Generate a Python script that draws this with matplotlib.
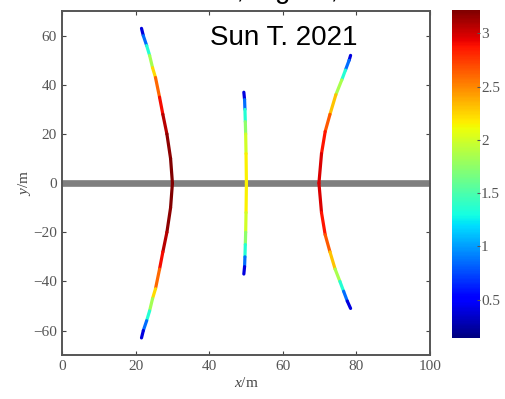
#!/usr/bin/env python3
"""Three coloured reflection curves around a grey baseline, with a jet colour bar."""

import matplotlib
matplotlib.use("Agg")
import matplotlib.pyplot as plt
import numpy as np
from matplotlib import font_manager
from matplotlib.collections import LineCollection

plt.rcParams["font.family"] = ["Liberation Serif", "DejaVu Serif"]
plt.rcParams["mathtext.fontset"] = "custom"
plt.rcParams["mathtext.rm"] = "Liberation Serif"
plt.rcParams["mathtext.it"] = "Liberation Serif:italic"

# left curve (top end -> bottom end)
left_y = [63, 60, 56, 52, 47, 43, 35, 28, 20, 10, 0, -10, -20, -28, -35, -43, -47, -52, -56, -60, -63]
left_x = [21.6, 22.1, 23.0, 23.8, 24.6, 25.4, 26.5, 27.4, 28.5, 29.5, 30.0,
          29.5, 28.5, 27.4, 26.5, 25.4, 24.6, 23.8, 23.0, 22.1, 21.6]
left_v = [0.2, 0.6, 1.1, 1.6, 2.05, 2.4, 2.8, 3.0, 3.15, 3.2, 3.22,
          3.2, 3.15, 3.0, 2.8, 2.4, 2.05, 1.6, 1.1, 0.6, 0.2]

# middle curve
mid_y = [37, 34, 30, 25, 20, 12, 0, -12, -20, -25, -30, -34, -37]
mid_x = [49.4, 49.6, 49.7, 49.8, 49.9, 50.0, 50.1, 50.0, 49.9, 49.8, 49.7, 49.6, 49.4]
mid_v = [0.2, 0.6, 1.1, 1.6, 1.9, 2.1, 2.2, 2.1, 1.9, 1.6, 1.1, 0.6, 0.2]

# right curve
right_y = [52, 50, 46, 42, 36, 28, 21, 12, 0, -12, -21, -28, -35, -40, -44, -48, -51]
right_x = [78.4, 78.0, 77.0, 76.0, 74.4, 72.8, 71.5, 70.5, 69.8,
           70.5, 71.5, 72.8, 74.2, 75.5, 76.5, 77.5, 78.4]
right_v = [0.2, 0.6, 1.1, 1.6, 2.1, 2.5, 2.8, 2.95, 3.0,
           2.95, 2.8, 2.5, 2.1, 1.6, 1.1, 0.6, 0.2]

CURVES = [(left_x, left_y, left_v), (mid_x, mid_y, mid_v), (right_x, right_y, right_v)]
V_MIN, V_MAX = 0.14, 3.22
CBAR_TICKS = [0.5, 1, 1.5, 2, 2.5, 3]
CBAR_LABELS = ["0.5", "1", "1.5", "2", "2.5", "3"]

installed = {f.name for f in font_manager.fontManager.ttflist}
NARROW = "Liberation Sans Narrow" in installed
SANS = ["Liberation Sans Narrow", "Liberation Sans"] if NARROW else ["Liberation Sans"]
TITLE_SIZE = 26 if NARROW else 20


def add_curve(ax, xs, ys, vs, norm):
    pts = np.column_stack([xs, ys])
    segs = np.stack([pts[:-1], pts[1:]], axis=1)
    vals = (np.asarray(vs[:-1]) + np.asarray(vs[1:])) / 2
    lc = LineCollection(segs, cmap="jet", norm=norm, linewidths=2.3, capstyle="round", zorder=3)
    lc.set_array(vals)
    ax.add_collection(lc)
    return lc


def main():
    fig = plt.figure(figsize=(5.06, 3.99), dpi=100)
    ax = fig.add_axes([0.1225, 0.110, 0.7275, 0.862])
    cax = fig.add_axes([0.893, 0.153, 0.055, 0.822])

    norm = plt.Normalize(V_MIN, V_MAX)
    ax.axhline(0, color="#7f7f7f", linewidth=4.8, zorder=2)
    lc = None
    for xs, ys, vs in CURVES:
        lc = add_curve(ax, xs, ys, vs, norm)

    ax.set_xlim(0, 100)
    ax.set_ylim(-70, 70)
    ax.set_xticks([0, 20, 40, 60, 80, 100])
    ax.set_yticks([-60, -40, -20, 0, 20, 40, 60])
    ax.tick_params(direction="in", top=True, right=True, length=3, labelsize=11,
                   colors="#444444", labelcolor="#555555")
    for sp in ax.spines.values():
        sp.set_color("#555555")
        sp.set_linewidth(1.4)
    ax.set_xlabel("$x$/m", fontsize=11, color="#444444", labelpad=2)
    ax.set_ylabel("$y$/m", fontsize=11, color="#444444", labelpad=0)

    cb = fig.colorbar(lc, cax=cax, ticks=CBAR_TICKS)
    cb.ax.set_yticklabels(CBAR_LABELS)
    cb.ax.tick_params(direction="in", length=2, labelsize=11, colors="#555555", pad=1)
    cb.outline.set_visible(False)

    fig.text(0.56, 0.888, "Sun T. 2021", fontsize=TITLE_SIZE, family=SANS,
             ha="center", va="baseline", color="black")
    # caption line above, mostly cut off by the top edge as in the source image
    fig.text(0.615, 1.006, "a, Figure, after", fontsize=TITLE_SIZE, family=SANS,
             ha="center", va="baseline", color="black")

    fig.savefig("out.png", dpi=100)
    plt.close(fig)


if __name__ == "__main__":
    main()
